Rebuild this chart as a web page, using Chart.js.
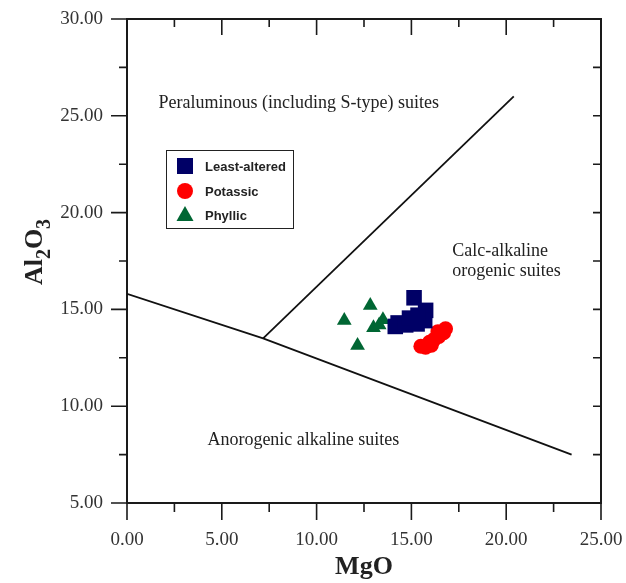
<!DOCTYPE html>
<html>
<head>
<meta charset="utf-8">
<script src="https://cdn.jsdelivr.net/npm/chart.js@4.4.0/dist/chart.umd.min.js"></script>
<style>
  html, body { margin: 0; padding: 0; background: #fff; }
</style>
</head>
<body>
<canvas id="chart" width="626" height="583"></canvas>
<script>
// Sample groups, MgO (x) against Al2O3 (y)
const leastAlteredMgO = [15.14, 15.75, 15.70, 14.15, 14.30, 14.70, 15.10, 14.90, 15.35, 15.30];
const leastAlteredAl2O3 = [15.60, 14.95, 14.42, 14.12, 14.30, 14.20, 14.35, 14.55, 14.70, 14.25];

const potassicMgO = [15.50, 15.75, 15.95, 16.20, 16.05, 16.45, 16.70, 16.80, 16.40];
const potassicAl2O3 = [13.10, 13.05, 13.30, 13.45, 13.15, 13.60, 13.80, 14.00, 13.85];

const phyllicMgO = [12.83, 11.46, 12.16, 13.50, 13.00, 13.30];
const phyllicAl2O3 = [15.20, 14.43, 13.13, 14.47, 14.05, 14.20];

// Field boundaries
const lowerBoundaryMgO = [0, 7.18, 23.45];
const lowerBoundaryAl2O3 = [15.8, 13.5, 7.5];
const upperBoundaryMgO = [7.18, 20.4];
const upperBoundaryAl2O3 = [13.5, 26.0];

// Axis ranges / ticks
const xRange = [0, 25];
const yRange = [5, 30];
const majorStep = 5;
const minorStep = 2.5;

// Field labels: [text, MgO, Al2O3]
const fieldLabels = [
  ["Peraluminous (including S-type) suites", 1.66, 25.65],
  ["Calc-alkaline", 17.15, 18.02],
  ["orogenic suites", 17.15, 16.98],
  ["Anorogenic alkaline suites", 4.24, 8.25],
];

const serif = "'Liberation Serif', 'Times New Roman', serif";
const sans = "'Liberation Sans', Arial, sans-serif";

const toPoints = (xs, ys) => xs.map((x, i) => ({ x: x, y: ys[i] }));

// frame on top/right and tick marks on all sides
const frameTicks = {
  id: "frameTicks",
  afterDraw(chart) {
    const { ctx, chartArea: a, scales } = chart;
    const x = scales.x, y = scales.y;
    ctx.save();
    ctx.strokeStyle = "#1a1a1a";
    ctx.lineWidth = 2;
    ctx.beginPath();
    ctx.moveTo(a.left, a.top);
    ctx.lineTo(a.right, a.top);
    ctx.lineTo(a.right, a.bottom);
    ctx.stroke();

    ctx.lineWidth = 1.6;
    ctx.beginPath();
    for (let v = xRange[0]; v <= xRange[1]; v += minorStep) {
      const px = x.getPixelForValue(v);
      const major = v % majorStep === 0;
      ctx.moveTo(px, a.bottom);
      ctx.lineTo(px, a.bottom + (major ? 17 : 9));
      ctx.moveTo(px, a.top);
      ctx.lineTo(px, a.top + (major ? 16 : 8));
    }
    for (let v = yRange[0]; v <= yRange[1]; v += minorStep) {
      const py = y.getPixelForValue(v);
      const major = v % majorStep === 0;
      ctx.moveTo(a.left, py);
      ctx.lineTo(a.left - (major ? 16 : 8), py);
      ctx.moveTo(a.right, py);
      ctx.lineTo(a.right - 8, py);
    }
    ctx.stroke();
    ctx.restore();
  },
};

// field names + y title with subscripts + legend box
const overlay = {
  id: "overlay",
  afterDraw(chart) {
    const { ctx, scales } = chart;
    ctx.save();
    ctx.fillStyle = "#222";
    ctx.font = "18px " + serif;
    ctx.textBaseline = "middle";
    ctx.textAlign = "left";
    fieldLabels.forEach(([t, mx, my]) => {
      ctx.fillText(t, scales.x.getPixelForValue(mx), scales.y.getPixelForValue(my));
    });

    // Al2O3 title, rotated
    const parts = [["Al", false], ["2", true], ["O", false], ["3", true]];
    const mainFont = "bold 26px " + serif;
    const subFont = "bold 20px " + serif;
    let total = 0;
    parts.forEach(([t, sub]) => {
      ctx.font = sub ? subFont : mainFont;
      total += ctx.measureText(t).width;
    });
    ctx.translate(42, 252);
    ctx.rotate(-Math.PI / 2);
    ctx.textBaseline = "alphabetic";
    let cx = -total / 2;
    parts.forEach(([t, sub]) => {
      ctx.font = sub ? subFont : mainFont;
      ctx.fillText(t, cx, sub ? 8 : 0);
      cx += ctx.measureText(t).width;
    });
    ctx.restore();

    // legend
    ctx.save();
    ctx.strokeStyle = "#222";
    ctx.lineWidth = 1;
    ctx.strokeRect(166.5, 150.5, 127, 78);
    ctx.font = "bold 13px " + sans;
    ctx.textBaseline = "middle";
    ctx.fillStyle = "#222";
    const rows = [166, 191, 215];
    chart.data.datasets.filter((d) => d.inLegend).forEach((d, i) => {
      const cy = rows[i];
      ctx.fillStyle = d.backgroundColor;
      ctx.beginPath();
      if (d.pointStyle === "rect") {
        ctx.rect(177, cy - 8, 16, 16);
      } else if (d.pointStyle === "circle") {
        ctx.arc(185, cy, 8, 0, Math.PI * 2);
      } else {
        ctx.moveTo(185, cy - 9);
        ctx.lineTo(193.5, cy + 6);
        ctx.lineTo(176.5, cy + 6);
        ctx.closePath();
      }
      ctx.fill();
      ctx.fillStyle = "#222";
      ctx.fillText(d.label, 205, cy + 1);
    });
    ctx.restore();
  },
};

const lineStyle = {
  type: "line",
  borderColor: "#111",
  borderWidth: 1.8,
  pointRadius: 0,
  fill: false,
  tension: 0,
  order: 5,
};

new Chart(document.getElementById("chart"), {
  type: "scatter",
  data: {
    datasets: [
      {
        label: "Least-altered",
        inLegend: true,
        data: toPoints(leastAlteredMgO, leastAlteredAl2O3),
        pointStyle: "rect",
        pointRadius: 11,
        backgroundColor: "#000066",
        borderColor: "#000066",
        borderWidth: 0,
        order: 1,
      },
      {
        label: "Potassic",
        inLegend: true,
        data: toPoints(potassicMgO, potassicAl2O3),
        pointStyle: "circle",
        pointRadius: 7.5,
        backgroundColor: "#ff0000",
        borderColor: "#ff0000",
        borderWidth: 0,
        order: 3,
      },
      {
        label: "Phyllic",
        inLegend: true,
        data: toPoints(phyllicMgO, phyllicAl2O3),
        pointStyle: "triangle",
        pointRadius: 8.5,
        backgroundColor: "#006633",
        borderColor: "#006633",
        borderWidth: 0,
        order: 2,
      },
      Object.assign({ label: "lower", data: toPoints(lowerBoundaryMgO, lowerBoundaryAl2O3) }, lineStyle),
      Object.assign({ label: "upper", data: toPoints(upperBoundaryMgO, upperBoundaryAl2O3) }, lineStyle),
    ],
  },
  options: {
    responsive: false,
    animation: false,
    devicePixelRatio: 1,
    layout: { padding: { left: 0, right: 25, top: 19, bottom: 0 } },
    plugins: {
      legend: { display: false },
      tooltip: { enabled: false },
    },
    scales: {
      x: {
        type: "linear",
        min: xRange[0],
        max: xRange[1],
        grid: { display: false },
        border: { display: true, color: "#1a1a1a", width: 2 },
        ticks: {
          stepSize: majorStep,
          padding: 18,
          color: "#333",
          font: { family: serif, size: 19 },
          maxRotation: 0,
          callback: (v) => v.toFixed(2),
        },
        title: {
          display: true,
          text: "MgO",
          color: "#222",
          font: { family: serif, size: 26, weight: "bold" },
          padding: { top: 0, bottom: 0 },
        },
        afterFit: (scale) => {
          scale.height = 80;
          scale.paddingLeft = 0;
          scale.paddingRight = 0;
        },
      },
      y: {
        type: "linear",
        min: yRange[0],
        max: yRange[1],
        grid: { display: false },
        border: { display: true, color: "#1a1a1a", width: 2 },
        ticks: {
          stepSize: majorStep,
          padding: 16,
          color: "#333",
          font: { family: serif, size: 19 },
          callback: (v) => v.toFixed(2),
        },
        afterFit: (scale) => {
          scale.width = 127;
          scale.paddingTop = 0;
          scale.paddingBottom = 0;
        },
      },
    },
  },
  plugins: [frameTicks, overlay],
});
</script>
</body>
</html>
